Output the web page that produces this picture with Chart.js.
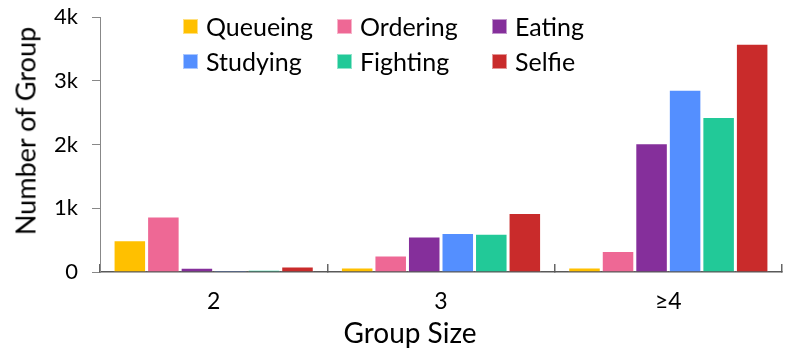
<!DOCTYPE html>
<html><head><meta charset="utf-8">
<script src="https://cdn.jsdelivr.net/npm/chart.js@4"></script>
<style>
html,body{margin:0;padding:0;background:#fff;}
#wrap{position:relative;width:797px;height:351px;font-family:Lato,sans-serif;color:#000;}
#legend{position:absolute;left:0;top:0;width:797px;height:80px;pointer-events:none;font-size:25px;}
.li{position:absolute;display:flex;align-items:center;white-space:nowrap;height:30px;}
.sw{width:15px;height:15px;margin-right:8px;box-sizing:border-box;border:1px solid rgba(255,255,255,0.5);}
.ttl{position:absolute;white-space:nowrap;font-size:28px;line-height:1;transform:translate(-50%,-50%);}
#ytitle{font-size:27px;transform:translate(-50%,-50%) rotate(-90deg);}
</style></head>
<body><div id="wrap"><canvas id="c" width="797" height="351"></canvas><div id="legend"></div>
<div class="ttl" id="xtitle"></div><div class="ttl" id="ytitle"></div></div>
<script>
const categories = ['2', '3', '\u22654'];
const seriesNames = ['Queueing', 'Ordering', 'Eating', 'Studying', 'Fighting', 'Selfie'];
const queueing = [500, 70, 70];
const ordering = [870, 260, 330];
const eating = [65, 555, 2020];
const studying = [25, 610, 2860];
const fighting = [30, 600, 2430];
const selfie = [85, 925, 3580];
const colors = ['#FFC000', '#EE6895', '#852F9B', '#548FFF', '#22C998', '#C92B2B'];
const yTicks = [0, 1000, 2000, 3000, 4000];
const yTickLabels = ['0', '1k', '2k', '3k', '4k'];
const xTitle = 'Group Size';
const yTitle = 'Number of Group';

const values = [queueing, ordering, eating, studying, fighting, selfie];
const FONT = 'Lato';

const datasets = seriesNames.map((n, i) => ({
  label: n, data: values[i], backgroundColor: colors[i],
  borderColor: 'rgba(255,255,255,0.45)', borderWidth: 1,
  categoryPercentage: 0.885, barPercentage: 0.97
}));

// HTML legend
const legendPos = [[183, 26], [337, 26], [492, 26], [183, 61], [337, 61], [492, 61]];
const lg = document.getElementById('legend');
seriesNames.forEach((n, i) => {
  const d = document.createElement('div');
  d.className = 'li';
  d.style.left = legendPos[i][0] + 'px';
  d.style.top = (legendPos[i][1] - 15) + 'px';
  d.innerHTML = '<span class="sw" style="background:' + colors[i] + '"></span><span>' + n + '</span>';
  lg.appendChild(d);
});
const xt = document.getElementById('xtitle');
xt.textContent = xTitle; xt.style.left = '410px'; xt.style.top = '332px';
const yt = document.getElementById('ytitle');
yt.textContent = yTitle; yt.style.left = '25px'; yt.style.top = '131px';

new Chart(document.getElementById('c'), {
  type: 'bar',
  data: { labels: categories, datasets },
  options: {
    responsive: false, animation: false,
    layout: { padding: { top: 17, right: 15, bottom: 0, left: 0 } },
    plugins: { legend: { display: false }, tooltip: { enabled: false } },
    scales: {
      x: {
        grid: { offset: true, drawOnChartArea: false, drawTicks: true, tickLength: -8, color: '#666', lineWidth: 1.5 },
        border: { color: '#595959', width: 1.5 },
        ticks: { color: '#000', font: { family: FONT, size: 23 }, padding: 24 },
        afterFit: s => { s.height = 79; s.paddingLeft = 0; s.paddingRight = 0; }
      },
      y: {
        min: 0, max: 4000,
        afterBuildTicks: s => { s.ticks = yTicks.map(v => ({ value: v })); },
        grid: { drawOnChartArea: false, drawTicks: true, tickLength: 8, color: '#888' },
        border: { color: '#888', width: 1 },
        ticks: { color: '#000', font: { family: FONT, size: 22 }, padding: 14,
          callback: (v) => yTickLabels[yTicks.indexOf(v)] },
        afterFit: s => { s.width = 100; s.paddingTop = 0; s.paddingBottom = 0; }
      }
    }
  }
});
</script></body></html>
